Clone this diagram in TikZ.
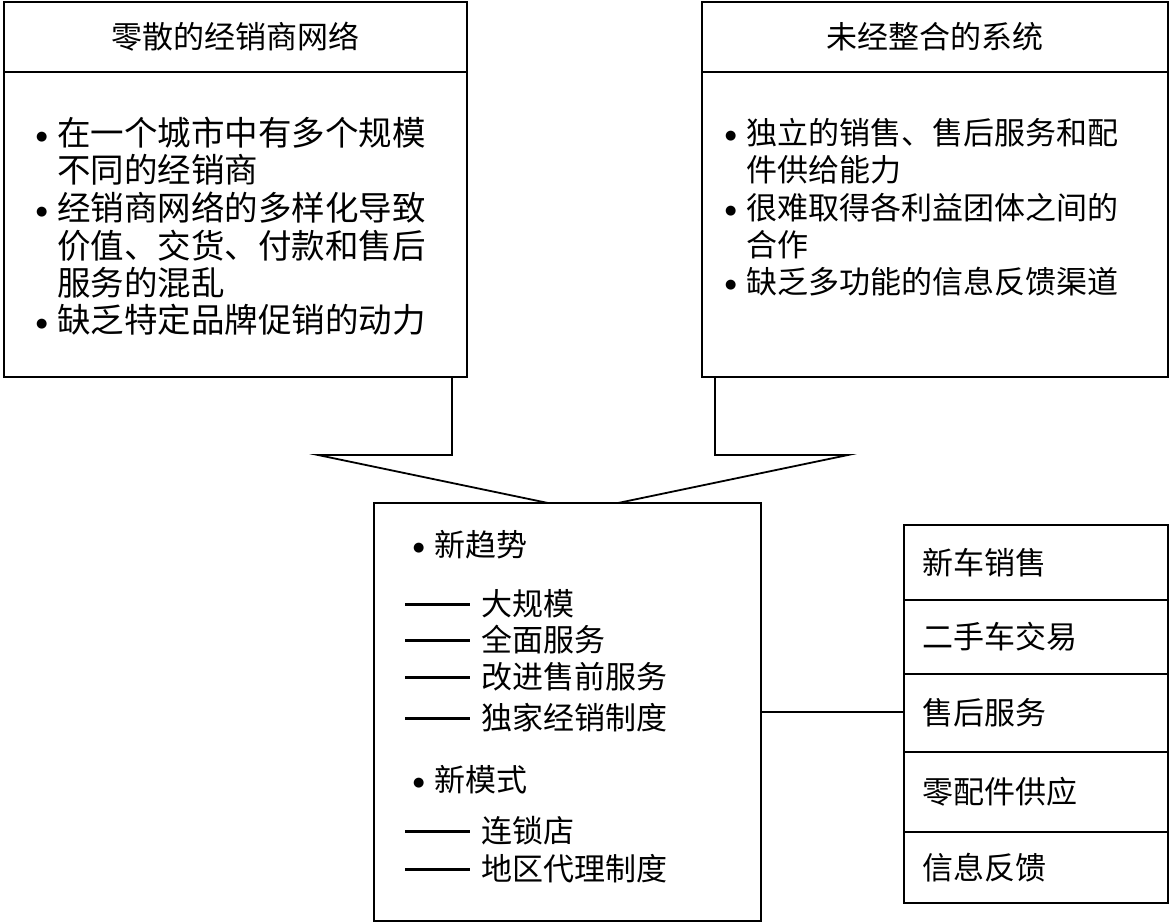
\documentclass[tikz,border=0pt]{standalone}
\usepackage{fontspec}
\newfontfamily\cjk{Noto Sans CJK SC}
\newfontfamily\djv{DejaVu Sans}
\begin{document}
\begin{tikzpicture}[x=1pt,y=-1pt,
  font=\cjk\fontsize{31}{37}\selectfont,
  box/.style={draw, line width=2.8pt, inner sep=0pt, outer sep=0pt, anchor=north west},
  txt/.style={anchor=west, inner sep=0pt, outer sep=0pt},
  big/.style={font=\cjk\fontsize{33.5}{38}\selectfont},
  ln/.style={line width=1.8pt},
  dashline/.style={line width=3pt}]
\useasboundingbox (0,0) rectangle (1170,923);
\newcommand{\bul}{\makebox[21pt][l]{\raisebox{5pt}{\djv\fontsize{13}{13}\selectfont ●}}}
% top left box
\node[box, minimum width=463pt, minimum height=70pt] (Lt) at (4,2) {零散的经销商网络};
\node[box, minimum width=463pt, minimum height=305pt] (Lb) at (Lt.south west) {};
\node[txt, big] (l1) at (36,133) {\bul 在一个城市中有多个规模};
\node[txt, big] (l2) at (57,170) {不同的经销商};
\node[txt, big] (l3) at (36,208) {\bul 经销商网络的多样化导致};
\node[txt, big] (l4) at (57,246) {价值、交货、付款和售后};
\node[txt, big] (l5) at (57,283) {服务的混乱};
\node[txt, big] (l6) at (36,320) {\bul 缺乏特定品牌促销的动力};
% top right box
\node[box, minimum width=466pt, minimum height=70pt] (Rt) at (702,2) {未经整合的系统};
\node[box, minimum width=466pt, minimum height=305pt] (Rb) at (Rt.south west) {};
\node[txt] (r1) at (725,133) {\bul 独立的销售、售后服务和配};
\node[txt] (r2) at (746,170) {件供给能力};
\node[txt] (r3) at (725,208) {\bul 很难取得各利益团体之间的};
\node[txt] (r4) at (746,245) {合作};
\node[txt] (r5) at (725,282) {\bul 缺乏多功能的信息反馈渠道};
% middle box
\node[box, minimum width=387pt, minimum height=418pt] (M) at (374,503) {};
\node[txt] (m0) at (413,545) {\bul 新趋势};
\node[txt] (m1) at (481,604) {大规模};
\node[txt] (m2) at (481,640) {全面服务};
\node[txt] (m3) at (481,677) {改进售前服务};
\node[txt] (m4) at (481,718) {独家经销制度};
\node[txt] (m5) at (413,780) {\bul 新模式};
\node[txt] (m6) at (481,831) {连锁店};
\node[txt] (m7) at (481,869) {地区代理制度};
\foreach \n in {m1,m2,m3,m4,m6,m7}
  \draw[dashline] ([xshift=-76pt]\n.west) -- ([xshift=-11pt]\n.west);
% right stack
\node[box, minimum width=264pt, minimum height=75pt] (S1) at (904,525) {};
\node[box, minimum width=264pt, minimum height=74pt] (S2) at (S1.south west) {};
\node[box, minimum width=264pt, minimum height=78pt] (S3) at (S2.south west) {};
\node[box, minimum width=264pt, minimum height=80pt] (S4) at (S3.south west) {};
\node[box, minimum width=264pt, minimum height=71pt] (S5) at (S4.south west) {};
\node[txt] (s1) at ([xshift=18pt]S1.west) {新车销售};
\node[txt] (s2) at ([xshift=18pt]S2.west) {二手车交易};
\node[txt] (s3) at ([xshift=18pt]S3.west) {售后服务};
\node[txt] (s4) at ([xshift=18pt]S4.west) {零配件供应};
\node[txt] (s5) at ([xshift=18pt]S5.west) {信息反馈};
% connector
\draw[ln] (M.east) -- (M.east -| S3.west);
% merge arrow
\coordinate (a1) at (452,377);
\coordinate (a2) at (452,455);
\coordinate (a3) at (318,455);
\coordinate (a4) at (548,503);
\coordinate (b1) at (715,377);
\coordinate (b2) at (715,455);
\coordinate (b3) at (848,455);
\coordinate (b4) at (618,503);
\draw[ln] (a1) -- (a2) -- (a3) -- (a4);
\draw[ln] (b1) -- (b2) -- (b3) -- (b4);
\end{tikzpicture}
\end{document}
